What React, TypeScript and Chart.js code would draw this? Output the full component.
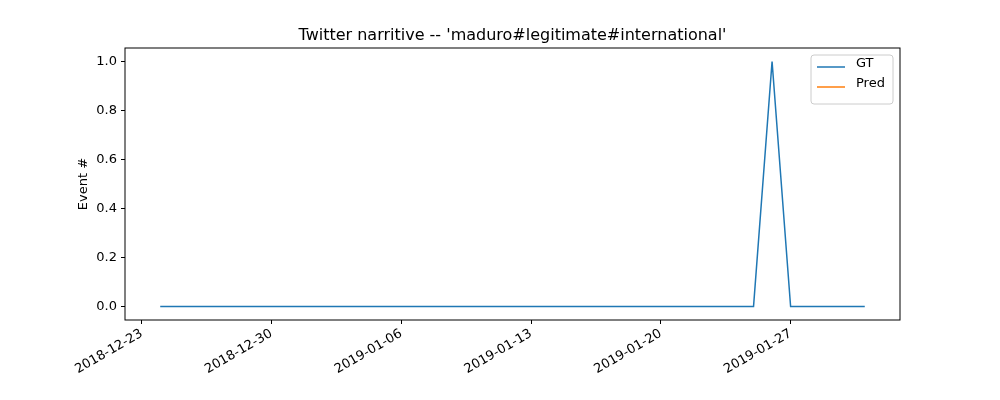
import { useEffect, useRef } from 'react'
import { Chart, registerables } from 'chart.js'

Chart.register(...registerables)

// day 0 = 2018-12-23
const tickDays = [0, 7, 14, 21, 28, 35]
const tickLabels = ['2018-12-23', '2018-12-30', '2019-01-06', '2019-01-13', '2019-01-20', '2019-01-27']
const gtDays = Array.from({ length: 39 }, (_, i) => i + 1)
const gtValues = [
  0, 0, 0, 0, 0, 0, 0, 0, 0, 0,
  0, 0, 0, 0, 0, 0, 0, 0, 0, 0,
  0, 0, 0, 0, 0, 0, 0, 0, 0, 0,
  0, 0, 0, 1, 0, 0, 0, 0, 0,
]
const predValues: number[] = []

const FONT = 'DejaVu Sans'

const frame = {
  id: 'frame',
  afterDraw(chart: Chart) {
    const { ctx, chartArea: a } = chart
    ctx.save()
    ctx.strokeStyle = '#000'
    ctx.lineWidth = 1
    ctx.strokeRect(a.left, a.top, a.right - a.left, a.bottom - a.top)
    ctx.fillStyle = '#000'
    ctx.font = `16px "${FONT}"`
    ctx.textAlign = 'center'
    ctx.textBaseline = 'alphabetic'
    ctx.fillText("Twitter narritive -- 'maduro#legitimate#international'", (a.left + a.right) / 2, 40)
    ctx.save()
    ctx.translate(84, (a.top + a.bottom) / 2)
    ctx.rotate(-Math.PI / 2)
    ctx.font = `13px "${FONT}"`
    ctx.textBaseline = 'middle'
    ctx.fillText('Event #', 0, 0)
    ctx.restore()
    // legend
    const x0 = a.right - 89, y0 = a.top + 7
    ctx.fillStyle = 'rgba(255,255,255,0.8)'
    ctx.strokeStyle = '#ccc'
    ctx.beginPath()
    ctx.roundRect(x0, y0, 82, 49, 3)
    ctx.fill()
    ctx.stroke()
    const items = [['GT', '#1f77b4', 12], ['Pred', '#ff7f0e', 32]] as const
    ctx.font = `13px "${FONT}"`
    ctx.textAlign = 'left'
    for (const [label, color, dy] of items) {
      ctx.strokeStyle = color
      ctx.lineWidth = 1.5
      ctx.beginPath()
      ctx.moveTo(x0 + 6, y0 + dy)
      ctx.lineTo(x0 + 34, y0 + dy)
      ctx.stroke()
      ctx.fillStyle = '#000'
      ctx.fillText(label, x0 + 45, y0 + dy)
    }
    ctx.restore()
  },
}

const App = () => {
  const chartRef = useRef<HTMLCanvasElement>(null)
  const chartInstance = useRef<Chart | null>(null)

  useEffect(() => {
    if (!chartRef.current) return
    const ctx = chartRef.current.getContext('2d')
    if (!ctx) return
    if (chartInstance.current) chartInstance.current.destroy()

    chartInstance.current = new Chart(ctx, {
      type: 'line',
      data: {
        datasets: [
          {
            label: 'GT',
            data: gtDays.map((d, i) => ({ x: d, y: gtValues[i] })),
            borderColor: '#1f77b4',
            borderWidth: 1.5,
            pointRadius: 0,
            tension: 0,
          },
          {
            label: 'Pred',
            data: predValues.map((v, i) => ({ x: gtDays[i], y: v })),
            borderColor: '#ff7f0e',
            borderWidth: 1.5,
            pointRadius: 0,
          },
        ],
      },
      options: {
        animation: false,
        responsive: false,
        layout: { padding: { top: 48, right: 100, left: 0, bottom: 0 } },
        plugins: { legend: { display: false }, title: { display: false }, tooltip: { enabled: false } },
        scales: {
          x: {
            type: 'linear',
            min: -0.9,
            max: 40.9,
            afterBuildTicks: (s: any) => { s.ticks = tickDays.map((v) => ({ value: v })) },
            afterFit: (s: any) => { s.height = 80 },
            grid: { drawOnChartArea: false, color: '#000', tickLength: 4 },
            border: { display: false },
            ticks: {
              color: '#000',
              font: { family: FONT, size: 13 },
              maxRotation: 30,
              minRotation: 30,
              padding: 2,
              callback: (v: any) => tickLabels[tickDays.indexOf(v)] ?? '',
            },
          },
          y: {
            min: -0.055,
            max: 1.055,
            afterBuildTicks: (s: any) => { s.ticks = [0, 0.2, 0.4, 0.6, 0.8, 1].map((v) => ({ value: v })) },
            afterFit: (s: any) => { s.width = 125 },
            grid: { drawOnChartArea: false, color: '#000', tickLength: 4 },
            border: { display: false },
            ticks: {
              color: '#000',
              font: { family: FONT, size: 13 },
              padding: 4,
              callback: (v: any) => Number(v).toFixed(1),
            },
          },
        },
      },
      plugins: [frame],
    })

    return () => {
      if (chartInstance.current) chartInstance.current.destroy()
    }
  }, [])

  return (
    <div style={{ position: 'absolute', left: 0, top: 0, width: 1000, height: 400, background: '#fff' }}>
      <canvas ref={chartRef} width={1000} height={400}></canvas>
    </div>
  )
}

export default App
